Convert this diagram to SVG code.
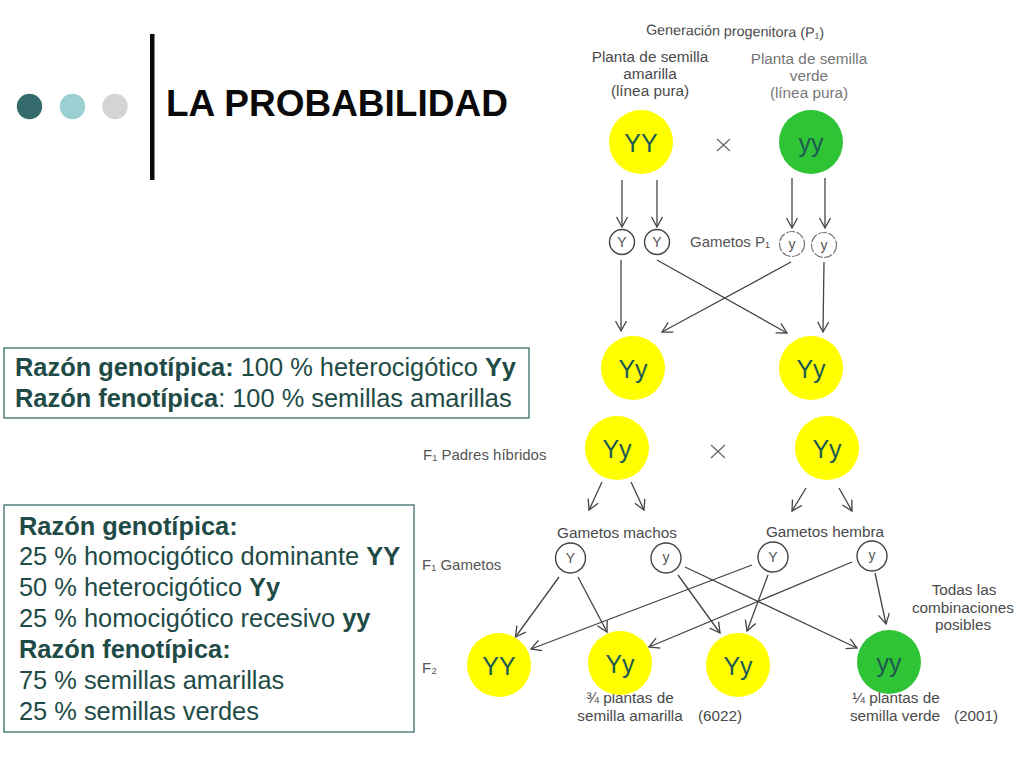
<svg xmlns="http://www.w3.org/2000/svg" width="1024" height="768" viewBox="0 0 1024 768">
<style>
text{font-family:"Liberation Sans",Arial,sans-serif}
.g{font-size:25px;fill:#1f5a52;text-anchor:middle}
.y{fill:#ffff00}.v{fill:#2fc436}
.s{font-size:15.3px;fill:#4a4a4a;text-anchor:middle}
.s2{font-size:15.3px;fill:#777;text-anchor:middle}
.l{font-size:15px;fill:#555}
.c{fill:#fff;stroke:#444;stroke-width:1.4}
.cd{fill:#fff;stroke:#777;stroke-width:1.2;stroke-dasharray:9 1.5}
.t{font-size:14px;fill:#555;text-anchor:middle}
.b{font-size:25.4px;fill:#1f4b47}
.box{fill:#fff;stroke:#3c6e6c;stroke-width:1.3}
.con line{stroke:#444;stroke-width:1.3;marker-end:url(#a)}
.x{stroke:#666;stroke-width:1.2;fill:none}
</style>
<defs><marker id="a" markerWidth="14" markerHeight="14" refX="11" refY="6" orient="auto" markerUnits="userSpaceOnUse"><path d="M1 0.5L11 6L1 11.500" fill="none" stroke="#444" stroke-width="1.3"/></marker></defs>
<rect width="1024" height="768" fill="#fff"/>
<g id="decor">
<circle cx="29.500" cy="106.500" r="12.700" fill="#366b6e"/>
<circle cx="72.500" cy="106.500" r="12.700" fill="#9bcfd2"/>
<circle cx="115" cy="106.500" r="12.700" fill="#d4d4d4"/>
<rect x="150" y="34" width="4.500" height="146" fill="#0a0a0a"/>
</g>
<g id="title"><text x="166" y="116" font-size="37" font-weight="700" fill="#0a0a0a">LA PROBABILIDAD</text></g>
<g id="scan-labels">
<text class="s" x="735" y="36" font-size="14.300" style="font-size:14.300px" transform="rotate(1 735 36)">Generación progenitora (P₁)</text>
<text class="s" x="650" y="62">Planta de semilla</text><text class="s" x="650" y="79">amarilla</text><text class="s" x="650" y="96">(línea pura)</text>
<text class="s2" x="809" y="64">Planta de semilla</text><text class="s2" x="809" y="81">verde</text><text class="s2" x="809" y="98">(línea pura)</text>
<text class="l" x="690" y="247">Gametos P₁</text>
<text class="l" x="423" y="460">F₁ Padres híbridos</text>
<text class="l" x="422" y="570">F₁ Gametos</text>
<text class="l" x="422" y="673">F₂</text>
<text class="s" x="617" y="538">Gametos machos</text>
<text class="s" x="825" y="537">Gametos hembra</text>
<text class="s" x="964" y="595">Todas las</text><text class="s" x="963" y="613">combinaciones</text><text class="s" x="963" y="630">posibles</text>
<text class="s" x="630" y="703">¾ plantas de</text>
<text class="s" x="630" y="721">semilla amarilla</text><text class="s" x="720" y="721">(6022)</text>
<text class="s" x="896" y="703">¼ plantas de</text>
<text class="s" x="895" y="721">semilla verde</text><text class="s" x="976" y="721">(2001)</text>
</g>
<path class="x" d="M717 139L730 151M730 139L717 151M711 445L725 458M725 445L711 458"/>
<g id="connectors" class="con">
<line x1="622" y1="180" x2="622" y2="227"/><line x1="657" y1="180" x2="657" y2="227"/>
<line x1="792" y1="178" x2="792" y2="228"/><line x1="825" y1="178" x2="825" y2="228"/>
<line x1="621" y1="260" x2="621" y2="331"/><line x1="657" y1="260" x2="787" y2="333"/>
<line x1="791" y1="262" x2="662" y2="332"/><line x1="824" y1="262" x2="823" y2="332"/>
<line x1="602" y1="482" x2="589" y2="510"/><line x1="631" y1="482" x2="644" y2="510"/>
<line x1="806" y1="488" x2="792" y2="511"/><line x1="839" y1="488" x2="852" y2="511"/>
<line x1="559" y1="577" x2="515.500" y2="637"/><line x1="578" y1="577" x2="607" y2="632"/>
<line x1="752" y1="565" x2="531" y2="649"/><line x1="852" y1="562" x2="649" y2="647"/>
<line x1="678" y1="575" x2="720" y2="633"/><line x1="685" y1="567" x2="857" y2="648"/>
<line x1="768" y1="575" x2="747" y2="631"/><line x1="875" y1="573" x2="886" y2="624"/>
</g>
<g id="g1"><circle class="c" cx="622" cy="242" r="12.500"/><text class="t" x="622" y="247">Y</text></g>
<g id="g2"><circle class="c" cx="657" cy="242" r="12.500"/><text class="t" x="657" y="247">Y</text></g>
<g id="g3"><circle class="cd" cx="792" cy="244" r="12.500"/><text class="t" x="792" y="249">y</text></g>
<g id="g4"><circle class="cd" cx="824" cy="245" r="12.500"/><text class="t" x="824" y="250">y</text></g>
<g id="g5"><circle class="c" cx="570.500" cy="558" r="15"/><text class="t" x="570.500" y="563">Y</text></g>
<g id="g6"><circle class="c" cx="666" cy="558" r="15"/><text class="t" x="666" y="562">y</text></g>
<g id="g7"><circle class="c" cx="773" cy="557" r="15"/><text class="t" x="773" y="562">Y</text></g>
<g id="g8"><circle class="c" cx="872" cy="556" r="15"/><text class="t" x="872" y="560">y</text></g>
<g id="n1"><circle class="y" cx="641" cy="142" r="32"/><text class="g" x="641" y="152">YY</text></g>
<g id="n2"><circle class="v" cx="811" cy="142" r="32"/><text class="g" x="811" y="152">yy</text></g>
<g id="n3"><circle class="y" cx="633" cy="368" r="32"/><text class="g" x="633" y="378">Yy</text></g>
<g id="n4"><circle class="y" cx="811" cy="368" r="32"/><text class="g" x="811" y="378">Yy</text></g>
<g id="n5"><circle class="y" cx="617" cy="448" r="32"/><text class="g" x="617" y="458">Yy</text></g>
<g id="n6"><circle class="y" cx="827" cy="448" r="32"/><text class="g" x="827" y="458">Yy</text></g>
<g id="n7"><circle class="y" cx="499" cy="665" r="32"/><text class="g" x="499" y="675">YY</text></g>
<g id="n8"><circle class="y" cx="620" cy="663" r="32"/><text class="g" x="620" y="673">Yy</text></g>
<g id="n9"><circle class="y" cx="738" cy="665" r="32"/><text class="g" x="738" y="675">Yy</text></g>
<g id="n10"><circle class="v" cx="889" cy="662" r="32"/><text class="g" x="889" y="672">yy</text></g>
<g id="box1"><rect class="box" x="4" y="348" width="525" height="70"/>
<text class="b" x="15" y="376"><tspan font-weight="700">Razón genotípica:</tspan> 100 % heterocigótico <tspan font-weight="700">Yy</tspan></text>
<text class="b" x="15" y="407"><tspan font-weight="700">Razón fenotípica</tspan>: 100 % semillas amarillas</text></g>
<g id="box2"><rect class="box" x="4" y="505" width="410" height="227"/>
<text class="b" x="19" y="535" font-weight="700">Razón genotípica:</text>
<text class="b" x="19" y="565">25 % homocigótico dominante <tspan font-weight="700">YY</tspan></text>
<text class="b" x="19" y="596">50 % heterocigótico <tspan font-weight="700">Yy</tspan></text>
<text class="b" x="19" y="627">25 % homocigótico recesivo <tspan font-weight="700">yy</tspan></text>
<text class="b" x="19" y="658" font-weight="700">Razón fenotípica:</text>
<text class="b" x="19" y="689">75 % semillas amarillas</text>
<text class="b" x="19" y="720">25 % semillas verdes</text></g>
</svg>
